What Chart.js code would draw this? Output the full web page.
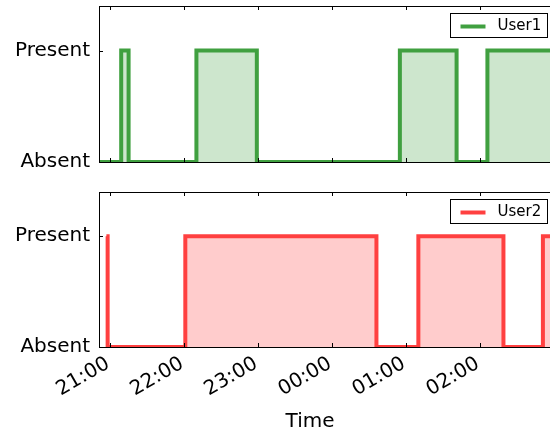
<!DOCTYPE html>
<html>
<head>
<meta charset="utf-8">
<script src="https://cdn.jsdelivr.net/npm/chart.js@4.4.0/dist/chart.umd.min.js"></script>
<style>
  html, body { margin: 0; padding: 0; background: #fff; overflow: hidden; width: 550px; height: 434px; }
  canvas { position: absolute; left: 0; }
  #top_chart { top: 0; }
  #bottom_chart { top: 180px; }
</style>
</head>
<body>
<canvas id="top_chart" width="556" height="180"></canvas>
<canvas id="bottom_chart" width="556" height="254"></canvas>
<script>
let yLabels = ["Absent", "Present"];
let xTicks = ["21:00", "22:00", "23:00", "00:00", "01:00", "02:00"];
let xStart = "20:51";
let xEnd = "03:00";

// each point = time the state changes, value held until the next point
let user1Times = ["20:51", "21:09", "21:15", "22:10", "22:59", "00:55", "01:41", "02:06", "03:00"];
let user1Values = [0, 1, 0, 1, 0, 1, 0, 1, 1];
let user2Times = ["20:57", "20:58", "22:01", "00:36", "01:10", "02:19", "02:51", "03:00"];
let user2Values = [1, 0, 1, 0, 1, 0, 1, 1];

Chart.defaults.font.family = "'DejaVu Sans', sans-serif";
Chart.defaults.color = "#000";

function toMinutes(t) {
    let parts = t.split(":");
    let m = parseInt(parts[0]) * 60 + parseInt(parts[1]);
    if (m < 12 * 60) m += 24 * 60;  // after midnight
    return m;
}

// spines, inward ticks, boxed legend and axis title
const framePlugin = {
    id: "frame",
    afterDatasetsDraw(chart, args, opts) {
        let ctx = chart.ctx;
        let a = chart.chartArea;
        let xs = chart.scales.x;
        let ys = chart.scales.y;
        ctx.save();
        ctx.strokeStyle = "#000";
        ctx.lineWidth = 1;
        ctx.beginPath();
        xTicks.forEach(function (t) {
            let px = Math.round(xs.getPixelForValue(toMinutes(t))) + 0.5;
            ctx.moveTo(px, a.bottom); ctx.lineTo(px, a.bottom - 4);
            ctx.moveTo(px, a.top); ctx.lineTo(px, a.top + 4);
        });
        [0, 1].forEach(function (v) {
            let py = Math.round(ys.getPixelForValue(v)) + 0.5;
            ctx.moveTo(a.left, py); ctx.lineTo(a.left + 4, py);
        });
        ctx.stroke();
        ctx.strokeRect(Math.round(a.left) + 0.5, Math.round(a.top) + 0.5,
            Math.round(a.right - a.left), Math.round(a.bottom - a.top));

        // legend box
        let ds = chart.data.datasets[0];
        let bw = 97, bh = 24;
        let bx = Math.round(a.right - 7 - bw) + 0.5;
        let by = Math.round(a.top + 7) + 0.5;
        ctx.fillStyle = "#fff";
        ctx.fillRect(bx, by, bw, bh);
        ctx.strokeStyle = "#000";
        ctx.strokeRect(bx, by, bw, bh);
        ctx.strokeStyle = ds.borderColor;
        ctx.lineWidth = 4;
        ctx.beginPath();
        ctx.moveTo(bx + 10, by + 13);
        ctx.lineTo(bx + 35, by + 13);
        ctx.stroke();
        ctx.fillStyle = "#000";
        ctx.font = "15px 'DejaVu Sans'";
        ctx.textBaseline = "middle";
        ctx.fillText(ds.label, bx + 47, by + 13);

        if (opts.xTitle) {
            ctx.font = "20px 'DejaVu Sans'";
            ctx.textAlign = "center";
            ctx.fillText(opts.xTitle, a.left + 211, a.bottom + 75);
        }
        ctx.restore();
    }
};

function makeChart(id, label, times, values, lineColor, fillColor, showX) {
    let points = times.map(function (t, i) {
        return {x: toMinutes(t), y: values[i]};
    });
    return new Chart(id, {
        type: "line",
        data: {
            datasets: [{
                label: label,
                data: points,
                stepped: true,
                borderColor: lineColor,
                backgroundColor: fillColor,
                borderWidth: 4,
                fill: "origin",
                pointRadius: 0,
                clip: 0
            }]
        },
        options: {
            responsive: false,
            animation: false,
            layout: {padding: showX ? {top: 12, right: 2, left: 0, bottom: 0} : {top: 6, right: 2, left: 0, bottom: 18}},
            plugins: {
                legend: {display: false},
                tooltip: {enabled: false},
                frame: {xTitle: showX ? "Time" : null}
            },
            scales: {
                x: {
                    type: "linear",
                    display: showX,
                    min: toMinutes(xStart),
                    max: toMinutes(xEnd),
                    afterBuildTicks: function (scale) {
                        scale.ticks = xTicks.map(function (t) { return {value: toMinutes(t)}; });
                    },
                    afterFit: function (scale) {
                        scale.height = showX ? 87 : 0;
                        scale.paddingLeft = 0;
                        scale.paddingRight = 0;
                    },
                    grid: {display: false, drawTicks: false},
                    border: {display: false},
                    ticks: {
                        autoSkip: false,
                        minRotation: 30,
                        maxRotation: 30,
                        padding: 5,
                        labelOffset: -2,
                        font: {size: 20},
                        callback: function (v, i) { return xTicks[i]; }
                    }
                },
                y: {
                    type: "linear",
                    min: 0,
                    max: 1.4,
                    afterBuildTicks: function (scale) {
                        scale.ticks = [{value: 0}, {value: 1}];
                    },
                    afterFit: function (scale) {
                        scale.width = 99;
                        scale.paddingTop = 0;
                        scale.paddingBottom = 0;
                    },
                    grid: {display: false, drawTicks: false},
                    border: {display: false},
                    ticks: {
                        padding: 9,
                        font: {size: 20},
                        callback: function (v) { return yLabels[v]; }
                    }
                }
            }
        },
        plugins: [framePlugin]
    });
}

makeChart("top_chart", "User1", user1Times, user1Values, "rgb(64,160,64)", "rgb(205,230,205)", false);
makeChart("bottom_chart", "User2", user2Times, user2Values, "rgb(255,64,64)", "rgb(255,204,204)", true);
</script>
</body>
</html>
